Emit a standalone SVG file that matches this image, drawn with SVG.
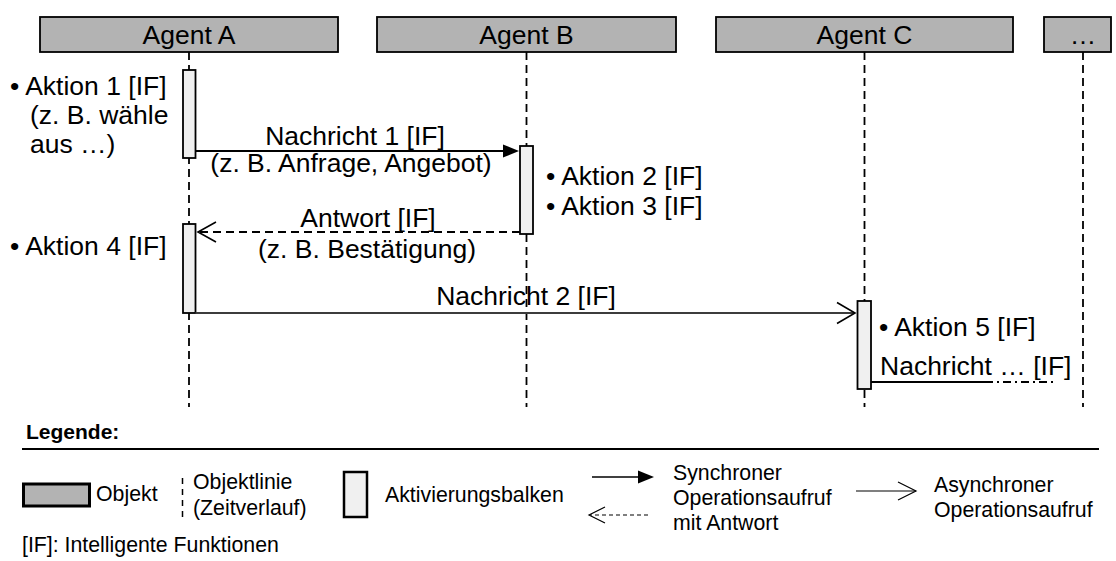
<svg xmlns="http://www.w3.org/2000/svg" width="1116" height="561" viewBox="0 0 1116 561">
  <style>
    text { font-family: "Liberation Sans", Arial, sans-serif; fill: #000; }
    .t { font-size: 26.5px; }
    .lg { font-size: 21.3px; }
    .lgb { font-size: 21px; font-weight: bold; }
    .mid { text-anchor: middle; }
    .obj { fill: #b3b3b3; stroke: #000; stroke-width: 1.8; }
    .bar { fill: #f0f0f0; stroke: #000; stroke-width: 1.8; }
    .life { stroke: #000; stroke-width: 1.8; stroke-dasharray: 8 5; fill: none; }
    .sync { stroke: #000; stroke-width: 2; fill: none; }
    .reply { stroke: #000; stroke-width: 2; stroke-dasharray: 8 5; fill: none; }
    .async { stroke: #3c3c3c; stroke-width: 1.8; fill: none; }
    .open { stroke: #000; stroke-width: 1.6; fill: none; }
    .head { fill: #000; stroke: none; }
  </style>

  <!-- lifelines -->
  <g id="lifelines">
    <line class="life" x1="189" y1="52" x2="189" y2="407"/>
    <line class="life" x1="526.5" y1="52" x2="526.5" y2="407"/>
    <line class="life" x1="864.5" y1="52" x2="864.5" y2="407"/>
    <line class="life" x1="1083" y1="52" x2="1083" y2="407"/>
  </g>

  <!-- participants -->
  <g id="agent-a">
    <rect class="obj" x="40" y="17" width="298" height="35"/>
    <text class="t mid" x="189" y="44">Agent A</text>
  </g>
  <g id="agent-b">
    <rect class="obj" x="377" y="17" width="299" height="35"/>
    <text class="t mid" x="526.5" y="44">Agent B</text>
  </g>
  <g id="agent-c">
    <rect class="obj" x="716" y="17" width="297" height="35"/>
    <text class="t mid" x="864.5" y="44">Agent C</text>
  </g>
  <g id="agent-more">
    <rect class="obj" x="1044" y="17" width="67" height="35"/>
    <text class="t mid" x="1083" y="44">…</text>
  </g>

  <!-- activation bars -->
  <g id="act-a1"><rect class="bar" x="183" y="70" width="12.5" height="88"/></g>
  <g id="act-b1"><rect class="bar" x="520" y="146" width="13" height="88"/></g>
  <g id="act-a2"><rect class="bar" x="183" y="224" width="12.5" height="89"/></g>
  <g id="act-c1"><rect class="bar" x="857.5" y="301" width="13.5" height="88"/></g>

  <!-- messages -->
  <g id="connectors">
    <line class="sync" x1="195.5" y1="151" x2="505" y2="151"/>
    <polygon class="head" points="519,151 503,144.5 503,157.5"/>

    <line class="reply" x1="520" y1="232" x2="198" y2="232"/>
    <polyline class="open" points="216,222 198,232 216,242"/>

    <line class="async" x1="195.5" y1="313" x2="854" y2="313"/>
    <polyline class="open" points="837,302.5 855,313 837,323.5"/>

    <line class="sync" x1="871" y1="382" x2="985" y2="382"/>
    <line class="sync" x1="985" y1="382" x2="1053" y2="382" stroke-dasharray="8 4 2 4"/>
  </g>

  <!-- action and message labels -->
  <g id="labels">
    <text class="t" x="10" y="95">• Aktion 1 [IF]</text>
    <text class="t" x="30" y="124">(z. B. wähle</text>
    <text class="t" x="30" y="153">aus …)</text>

    <text class="t mid" x="355" y="145">Nachricht 1 [IF]</text>
    <text class="t mid" x="351" y="172">(z. B. Anfrage, Angebot)</text>

    <text class="t" x="546" y="185">• Aktion 2 [IF]</text>
    <text class="t" x="546" y="215">• Aktion 3 [IF]</text>

    <text class="t mid" x="368" y="227">Antwort [IF]</text>
    <text class="t mid" x="367" y="258">(z. B. Bestätigung)</text>

    <text class="t" x="10" y="255">• Aktion 4 [IF]</text>

    <text class="t mid" x="526" y="305">Nachricht 2 [IF]</text>

    <text class="t" x="879" y="336">• Aktion 5 [IF]</text>
    <text class="t" x="880" y="375">Nachricht … [IF]</text>
  </g>

  <!-- legend -->
  <g id="legend">
    <text class="lgb" x="26" y="439">Legende:</text>
    <line x1="22" y1="449" x2="1099" y2="449" stroke="#000" stroke-width="2"/>

    <rect x="23.5" y="484" width="66" height="22" fill="#b3b3b3" stroke="#000" stroke-width="3"/>
    <text class="lg" x="96" y="501">Objekt</text>

    <line x1="182.5" y1="478" x2="182.5" y2="520" stroke="#000" stroke-width="1.5" stroke-dasharray="6 5"/>
    <text class="lg" x="193" y="489">Objektlinie</text>
    <text class="lg" x="193" y="515">(Zeitverlauf)</text>

    <rect x="344" y="472" width="23" height="45" fill="#f0f0f0" stroke="#000" stroke-width="2.5"/>
    <text class="lg" x="385" y="502">Aktivierungsbalken</text>

    <line x1="592" y1="477" x2="640" y2="477" stroke="#000" stroke-width="1.5"/>
    <polygon class="head" points="654,477 638,470.5 638,483.5"/>
    <line x1="648" y1="515" x2="590" y2="515" stroke="#000" stroke-width="1.2" stroke-dasharray="4 3"/>
    <polyline points="605,507 589,515 605,523" fill="none" stroke="#000" stroke-width="1.2"/>
    <text class="lg" x="673" y="480">Synchroner</text>
    <text class="lg" x="673" y="505">Operationsaufruf</text>
    <text class="lg" x="673" y="530">mit Antwort</text>

    <line x1="856" y1="491" x2="916" y2="491" stroke="#000" stroke-width="1.2"/>
    <polyline points="898,482 916,491 898,500" fill="none" stroke="#000" stroke-width="1.2"/>
    <text class="lg" x="934" y="492">Asynchroner</text>
    <text class="lg" x="934" y="517">Operationsaufruf</text>

    <text class="lg" x="22" y="552">[IF]: Intelligente Funktionen</text>
  </g>
</svg>
